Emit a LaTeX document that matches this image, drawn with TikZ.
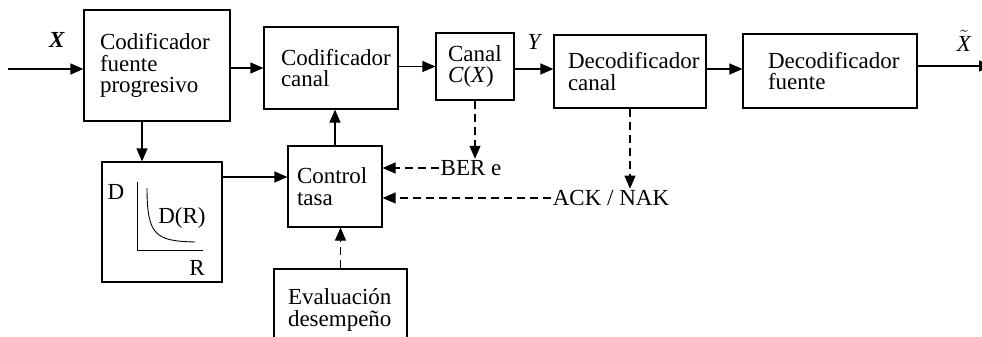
\documentclass[tikz,border=0pt]{standalone}
\usepackage{fontspec}
\setmainfont{Liberation Serif}
\usetikzlibrary{arrows.meta}

\begin{document}
\begin{tikzpicture}[x=1pt, y=-1pt, line width=1.2pt,
        font=\fontsize{23}{21.5}\selectfont,
        box/.style={rectangle, draw=black, inner sep=0pt, align=left},
        arr/.style={-{Triangle[length=13pt, width=11pt]}},
        darr/.style={arr, dash pattern=on 8pt off 5pt}]
                            \clip (0, 0) rectangle (982, 337);

                            \node (cf)[box, minimum width=146pt, minimum height=111pt, text width=114pt] at (157, 65.5) {Codificador\\fuente\\progresivo};
                            \node (cc)[box, minimum width=134pt, minimum height=82pt, text width=100pt] at (331, 68) {Codificador\\canal};
                            \node (ch)[box, minimum width=78pt, minimum height=67pt, text width=54pt] at (475, 66.5) {Canal\\\textit{C}(\textit{X})};
                            \node (dc)[box, minimum width=152pt, minimum height=73pt, text width=124pt] at (630, 71.5) {Decodificador\\canal};
                            \node (df)[box, minimum width=174pt, minimum height=74pt, text width=124pt] at (830, 71) {Decodificador\\fuente};
                            \node (dr)[box, minimum width=120pt, minimum height=120pt] at (162, 222) {};
                            \node (ctl)[box, minimum width=94pt, minimum height=81pt, text width=76pt] at (335, 186.5) {Control\\tasa};
                            \node (ev)[box, minimum width=133pt, minimum height=82pt, text width=105pt] at (340.5, 310) {Evaluación\\desempeño};

                            \node (xin)[inner sep=0pt] at (57, 40) {\textbf{\textit{X}}};
                            \node (y)[inner sep=0pt] at (535, 42) {\textit{Y}};
                            \node (xout)[inner sep=0pt] at (964, 41) {$\tilde{\mathit{X}}$};
                            \node (ber)[inner sep=1pt] at (471, 168) {BER e};
                            \node (ack)[inner sep=1pt] at (611, 198) {ACK / NAK};

                            % curva D(R)
                            \node (dlab)[inner sep=0pt] at (116, 192) {D};
                            \node (rlab)[inner sep=0pt] at (197, 268) {R};
                            \node (drlab)[inner sep=0pt] at (182, 218) {D(R)};
                            \draw [line width=0.9pt] (137, 182) -- (137, 250) -- (203, 250);
                            \draw [line width=0.9pt] (147, 188) .. controls (147, 236) and (156, 241) .. (195, 242);

                            \coordinate (in) at (8, 69);
                            \coordinate (out) at (992, 66);

                            \draw [arr] (in) -- (in -| cf.west);
                            \draw [arr] (cf.east |- cc) -- (cc.west);
                            \draw [arr] (cc.east |- ch) -- (ch.west);
                            \draw [arr] ([yshift=-2.5pt]ch.east) -- ([yshift=-2.5pt]ch.east -| dc.west);
                            \draw [arr] ([yshift=2.5pt]dc.east) -- ([yshift=2.5pt]dc.east -| df.west);
                            \draw [arr] (df.east |- out) -- (out);
                            \draw [arr] ([xshift=-15pt]cf.south) -- ([xshift=-20pt]dr.north);
                            \draw [arr] ([yshift=9.5pt]ctl.west -| dr.east) -- ([yshift=9.5pt]ctl.west);
                            \draw [arr] (ctl.north) -- (ctl.north |- cc.south);
                            \draw [darr] (ev.north) -- (ev.north |- ctl.south);
                            \draw [darr] (ch.south) -- (ch.south |- ber.north);
                            \draw [darr] (ber.west) -- (ber.west -| ctl.east);
                            \draw [darr] (dc.south) -- (dc.south |- ack.north);
                            \draw [darr] (ack.west) -- (ack.west -| ctl.east);
                        \end{tikzpicture}
\end{document}
